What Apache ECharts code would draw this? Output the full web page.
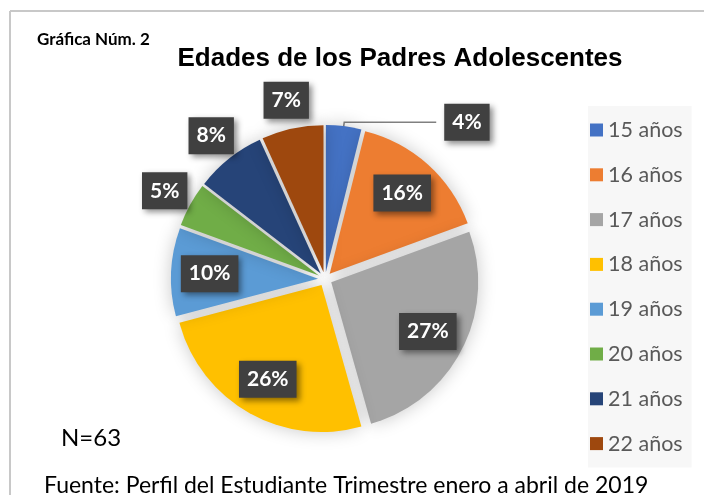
<!DOCTYPE html>
<html>
<head>
    <meta charset="utf-8">
    <script src="https://cdn.jsdelivr.net/npm/echarts@6/dist/echarts.min.js"></script>
</head>
<body style="margin:0;background:#fff;">
<div id="main" style="width: 704px;height:495px;"></div>
<script type="text/javascript">
    // datos de la gráfica
    var categorias = ['15 años', '16 años', '17 años', '18 años', '19 años', '20 años', '21 años', '22 años'];
    var porcentajes = [4, 16, 27, 26, 10, 5, 8, 7];
    var colores = ['#4472C4', '#ED7D31', '#A5A5A5', '#FFC000', '#5B9BD5', '#70AD47', '#264478', '#9E480E'];
    // donde va cada etiqueta: linea, dentro, fuera
    var ubicacion = ['linea', 'dentro', 'dentro', 'dentro', 'dentro', 'fuera', 'fuera', 'fuera'];

    var myChart = echarts.init(document.getElementById('main'));

    var cajaEtiqueta = {
        formatter: '{c}%',
        color: '#fff',
        fontFamily: 'Lato',
        fontWeight: 'bold',
        fontSize: 21,
        backgroundColor: '#404040',
        padding: [9, 8, 7, 8],
        shadowColor: 'rgba(0,0,0,0.45)',
        shadowBlur: 6,
        shadowOffsetX: 3,
        shadowOffsetY: 3
    };

    function datosAnillo(tipo) {
        return categorias.map(function (c, i) {
            return {
                name: c,
                value: porcentajes[i],
                label: Object.assign({show: ubicacion[i] === tipo, position: 'inside'}, cajaEtiqueta)
            };
        });
    }

    var datosPie = categorias.map(function (c, i) {
        var item = {name: c, value: porcentajes[i], selected: true, itemStyle: {color: colores[i]}};
        item.label = Object.assign({show: ubicacion[i] === 'linea'}, cajaEtiqueta);
        return item;
    });

    function anillo(radio, tipo) {
        return {
            type: 'pie',
            center: [325, 279],
            radius: radio,
            startAngle: 90,
            silent: true,
            itemStyle: {color: 'rgba(0,0,0,0)'},
            labelLine: {show: false},
            emphasis: {disabled: true},
            data: datosAnillo(tipo),
            z: 5
        };
    }

    option = {
        animation: false,
        title: [{
            text: 'Edades de los Padres Adolescentes',
            left: 395,
            textAlign: 'center',
            top: 41,
            textStyle: {fontFamily: 'Liberation Sans', fontWeight: 'bold', fontSize: 26, color: '#000'}
        }, {
            text: 'Gráfica Núm. 2',
            left: 32,
            top: 26,
            textStyle: {fontFamily: 'Lato', fontWeight: 'bold', fontSize: 17, color: '#000'}
        }],
        legend: {
            orient: 'vertical',
            left: 588,
            top: 106,
            data: categorias,
            backgroundColor: '#f7f7f7',
            padding: [13, 9, 13, 2],
            itemWidth: 13,
            itemHeight: 13,
            itemGap: 22.8,
            icon: 'rect',
            selectedMode: false,
            textStyle: {fontFamily: 'Lato', fontSize: 21.5, lineHeight: 20, color: '#595959', padding: [0, 0, 0, 0]}
        },
        graphic: [
            {type: 'line', shape: {x1: 10, y1: 11, x2: 704, y2: 11}, style: {stroke: '#c8c8c8', lineWidth: 2}},
            {type: 'line', shape: {x1: 10, y1: 11, x2: 10, y2: 495}, style: {stroke: '#c8c8c8', lineWidth: 2}},
            {type: 'text', left: 61, top: 426, style: {text: 'N=63', font: '24px Lato', fill: '#000'}},
            {type: 'text', left: 44, top: 474, style: {text: 'Fuente: Perfil del Estudiante Trimestre enero a abril de 2019', font: '23px Lato', fill: '#000'}}
        ],
        series: [
            {
                type: 'pie',
                center: [325, 279],
                radius: 147,
                startAngle: 90,
                selectedMode: 'multiple',
                selectedOffset: 7,
                itemStyle: {shadowBlur: 18, shadowColor: 'rgba(0,0,0,0.22)'},
                label: {position: 'outside', distanceToLabelLine: 8},
                labelLine: {show: true, length: 4, length2: 92, lineStyle: {color: '#808080', width: 1.5}},
                emphasis: {disabled: true},
                data: datosPie
            },
            anillo([95, 130], 'dentro'),
            anillo([165, 195], 'fuera')
        ]
    };

    myChart.setOption(option);
</script>
</body>
</html>
